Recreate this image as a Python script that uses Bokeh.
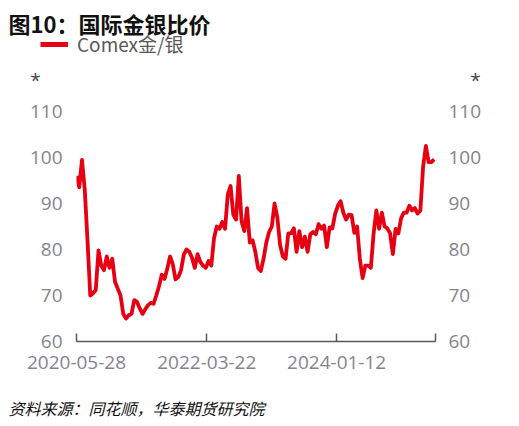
import pandas as pd
from bokeh.plotting import figure
from bokeh.layouts import column
from bokeh.models import (Range1d, FixedTicker, LinearAxis, DatetimeTickFormatter,
                          Legend, LegendItem, ColumnDataSource)
from bokeh.core.properties import value
from bokeh.embed import file_html
from bokeh.resources import INLINE

# ---- data -------------------------------------------------------------
start_date = "2020-05-28"
end_date = "2025-05-29"
n_points = 131
step = "14D"
ratio = [
    96.0, 93.5, 99.5, 93.0, 82.0, 70.0, 70.5, 71.2, 79.8, 76.5,
    75.5, 78.5, 76.0, 78.0, 73.0, 71.5, 70.0, 66.0, 65.0, 65.7,
    66.0, 69.0, 68.6, 67.2, 66.0, 67.0, 67.9, 68.4, 68.2, 70.0,
    72.0, 74.5, 73.6, 75.8, 78.5, 76.8, 73.5, 74.0, 75.5, 78.9,
    80.0, 79.5, 78.2, 76.0, 79.0, 77.3, 76.5, 76.0, 77.5, 76.5,
    82.5, 85.0, 84.5, 86.0, 84.5, 92.0, 93.8, 87.6, 86.5, 96.0,
    86.1, 84.0, 89.0, 81.5, 82.0, 79.5, 76.0, 75.3, 78.0, 81.5,
    83.8, 85.0, 90.0, 87.0, 81.0, 78.5, 78.0, 83.5, 83.5, 84.6,
    79.5, 84.0, 80.5, 82.8, 79.5, 83.3, 83.8, 83.3, 85.5, 84.5,
    85.2, 80.5, 84.8, 84.6, 87.7, 89.5, 90.5, 88.0, 86.5, 87.6,
    87.5, 83.6, 85.0, 78.0, 73.8, 76.5, 76.5, 76.0, 83.5, 88.5,
    84.5, 88.0, 85.0, 84.6, 83.5, 79.0, 84.5, 83.5, 86.8, 88.0,
    88.0, 89.5, 88.5, 89.0, 87.8, 88.5, 98.0, 102.5, 99.0, 99.0,
    99.6,
]
x_tick_labels = ["2020-05-28", "2022-03-22", "2024-01-12"]
y_ticks = [60, 70, 80, 90, 100, 110]
series_name = "Comex金/银"
title_text = "图10：国际金银比价"
source_text = "资料来源：同花顺，华泰期货研究院"
unit_text = "*"

# ---- styling ----------------------------------------------------------
RED = "#E60012"
GRAY = "#84848E"
AXIS = "#595959"
CJK = "Noto Sans CJK SC"
NUM = "Open Sans"
W = 519
H_HEAD, H_MAIN, H_FOOT = 95, 290, 41

dates = pd.date_range(start_date, periods=n_points, freq=step)
src = ColumnDataSource(dict(date=dates, ratio=ratio))


def ms(d):
    return pd.Timestamp(d).value / 1e6


def blank(height):
    f = figure(width=W, height=height, output_backend="svg", toolbar_location=None,
               x_range=Range1d(0, W), y_range=Range1d(height, 0),
               min_border=0, min_border_left=0, min_border_right=0,
               min_border_top=0, min_border_bottom=0,
               x_axis_location=None, y_axis_location=None)
    f.title.text = ""
    f.outline_line_color = None
    f.grid.visible = False
    f.background_fill_color = "white"
    f.border_fill_color = "white"
    if "frame_align" in f.properties():
        f.frame_align = False
    return f


# ---- header: title, legend, unit marks --------------------------------
head = blank(H_HEAD)
head.text(x=[8], y=[22.5], text=[title_text], text_font=value(CJK),
          text_font_size="22px", text_font_style="bold", text_color="#111111",
          text_baseline="middle", text_align="left")
head.text(x=[35, 475], y=[79, 79], text=[unit_text, unit_text],
          text_font=value(NUM), text_font_size="19px", text_color="#444444",
          text_baseline="middle", text_align="center")
# legend swatch renderer: same series, far outside this header's ranges
leg_r = head.line("date", "ratio", source=src, line_color=RED, line_width=5)
legend = Legend(items=[LegendItem(label=series_name, renderers=[leg_r])],
                location=(40, H_HEAD - 57))
legend.glyph_width = 28
legend.glyph_height = 22
legend.label_height = 22
legend.label_standoff = 9
legend.padding = 0
legend.margin = 0
legend.spacing = 0
legend.border_line_color = None
legend.background_fill_alpha = 0
legend.label_text_font = CJK
legend.label_text_font_size = "19px"
legend.label_text_color = "#595959"
head.add_layout(legend, "center")

# ---- main chart -------------------------------------------------------
p = figure(width=W, height=H_MAIN, output_backend="svg", toolbar_location=None,
           x_axis_type="datetime",
           x_range=Range1d(ms(start_date), ms(end_date)),
           y_range=Range1d(60, 110),
           min_border_left=76, min_border_right=W - 435,
           min_border_top=16, min_border_bottom=44,
           y_axis_location=None)
p.title.text = ""
p.outline_line_color = None
p.grid.grid_line_color = None
p.background_fill_color = "white"
p.border_fill_color = "white"
if "frame_align" in p.properties():
    p.frame_align = False

p.line("date", "ratio", source=src, line_color=RED, line_width=3.8,
       line_join="round")

xa = p.xaxis[0]
xa.ticker = FixedTicker(ticks=[ms(d) for d in x_tick_labels],
                        minor_ticks=[ms(end_date)])
fmt = "%Y-%m-%d"
xa.formatter = DatetimeTickFormatter(milliseconds=fmt, seconds=fmt, minsec=fmt,
                                     minutes=fmt, hourmin=fmt, hours=fmt,
                                     days=fmt, months=fmt, years=fmt, context=None)
xa.axis_line_color = AXIS
xa.axis_line_width = 1.5
xa.major_tick_line_color = AXIS
xa.major_tick_line_width = 1.5
xa.major_tick_in = 8
xa.major_tick_out = 0
xa.minor_tick_line_color = AXIS
xa.minor_tick_line_width = 1.5
xa.minor_tick_in = 8
xa.minor_tick_out = 0
xa.major_label_text_font = NUM
xa.major_label_text_font_size = "19px"
xa.major_label_text_color = GRAY
xa.major_label_standoff = 14

for side, standoff in (("left", 8), ("right", 7)):
    ax = LinearAxis(ticker=FixedTicker(ticks=y_ticks))
    ax.axis_line_color = None
    ax.major_tick_line_color = None
    ax.minor_tick_line_color = None
    ax.major_label_text_font = NUM
    ax.major_label_text_font_size = "19px"
    ax.major_label_text_color = GRAY
    ax.major_label_standoff = standoff
    p.add_layout(ax, side)

# ---- footer: source note ----------------------------------------------
foot = blank(H_FOOT)
foot.text(x=[8], y=[22], text=[source_text], text_font=value(CJK),
          text_font_size="16px", text_font_style="italic", text_color="#111111",
          text_baseline="middle", text_align="left")

layout = column(head, p, foot, spacing=0)
open("out.html", "w").write(file_html(layout, INLINE))
